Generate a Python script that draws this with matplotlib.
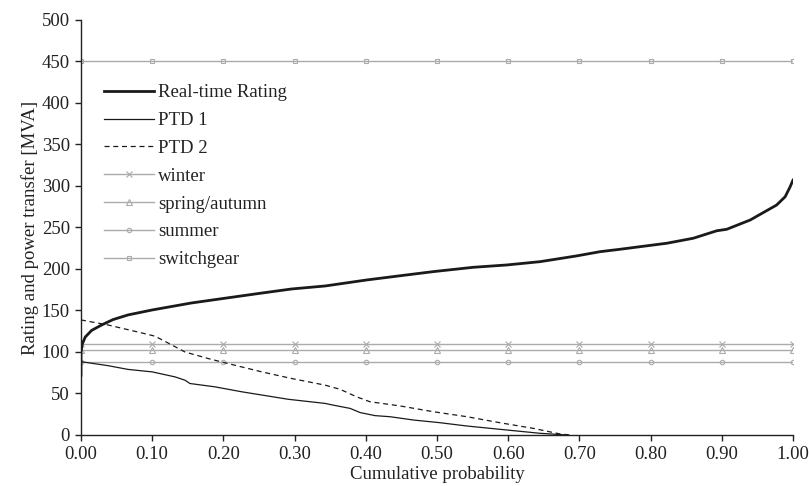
import matplotlib
matplotlib.use("Agg")
import matplotlib.pyplot as plt
from matplotlib.ticker import FormatStrFormatter, MultipleLocator

plt.rcParams['font.family'] = ['Liberation Serif', 'DejaVu Serif']

# Real-time rating (cumulative probability vs MVA)
rt_x = [0, 0, 0.002, 0.006, 0.015, 0.029, 0.045, 0.066, 0.1, 0.155, 0.202, 0.25,
        0.296, 0.343, 0.401, 0.45, 0.495, 0.551, 0.598, 0.645, 0.696, 0.729, 0.757,
        0.823, 0.86, 0.893, 0.907, 0.94, 0.977, 0.989, 0.996, 1.0]
rt_y = [72, 100, 110, 118, 126, 132.5, 139, 144.6, 150.6, 159, 164.7, 170.5,
        175.9, 179.5, 186.7, 192, 196.8, 202, 204.8, 208.8, 215.7, 220.8, 223.7,
        231, 237, 246, 247.8, 259, 277, 287, 299, 307]

ptd1_x = [0, 0.038, 0.066, 0.1, 0.132, 0.146, 0.153, 0.188, 0.226, 0.291, 0.343,
          0.354, 0.378, 0.392, 0.413, 0.434, 0.467, 0.504, 0.542, 0.598, 0.645, 0.682]
ptd1_y = [88.3, 83.5, 79, 76, 70, 66, 62, 58, 52, 43, 38,
          36, 32, 27, 23.3, 22, 18, 14.8, 10.8, 6, 2, 0]

ptd2_x = [0, 0.038, 0.085, 0.104, 0.123, 0.146, 0.179, 0.202, 0.254, 0.296, 0.343,
          0.364, 0.387, 0.406, 0.448, 0.495, 0.542, 0.588, 0.635, 0.673, 0.687]
ptd2_y = [138.6, 132.5, 123, 119, 110.5, 100, 92, 87, 76, 68, 60,
          55, 46, 40, 35, 28, 22, 14.8, 8, 1.2, 0]

season_x = [0.0, 0.1, 0.2, 0.3, 0.4, 0.5, 0.6, 0.7, 0.8, 0.9, 1.0]
winter = 110
spring_autumn = 102
summer = 88
switchgear = 450

fig = plt.figure(figsize=(8.09, 4.86), dpi=100)
ax = fig.add_axes([0.1001, 0.105, 0.8801, 0.854])

gray = '#ababab'
ax.plot(rt_x, rt_y, color='#1a1a1a', lw=2.0, label='Real-time Rating', zorder=5)
ax.plot(ptd1_x, ptd1_y, color='#1a1a1a', lw=0.9, label='PTD 1', zorder=5)
ax.plot(ptd2_x, ptd2_y, color='#1a1a1a', lw=0.9, ls=(0, (4, 3)), label='PTD 2', zorder=5)
ax.plot(season_x, [winter] * len(season_x), color=gray, lw=1.0, marker='x', ms=4,
        mew=0.8, label='winter')
ax.plot(season_x, [spring_autumn] * len(season_x), color=gray, lw=1.0, marker='^', ms=4,
        mfc='none', mew=0.8, label='spring/autumn')
ax.plot(season_x, [summer] * len(season_x), color=gray, lw=1.0, marker='o', ms=3.2,
        mfc='none', mew=0.8, label='summer')
ax.plot(season_x, [switchgear] * len(season_x), color=gray, lw=1.0, marker='s', ms=3.5,
        mfc='none', mew=0.8, label='switchgear')

ax.set_xlim(0, 1.0)
ax.set_ylim(0, 500)
ax.xaxis.set_major_locator(MultipleLocator(0.1))
ax.yaxis.set_major_locator(MultipleLocator(50))
ax.xaxis.set_major_formatter(FormatStrFormatter('%.2f'))
ax.spines['top'].set_visible(False)
ax.spines['right'].set_visible(False)
for s in ('left', 'bottom'):
    ax.spines[s].set_color('#222222')
    ax.spines[s].set_linewidth(1.0)
ax.tick_params(direction='out', length=4, width=1.0, labelsize=13.5, colors='#222222', pad=4)
for lab in ax.get_xticklabels() + ax.get_yticklabels():
    lab.set_color('#222222')

ax.set_xlabel('Cumulative probability', fontsize=13.5, color='#222222', labelpad=2)
ax.set_ylabel('Rating and power transfer [MVA]', fontsize=13.5, color='#222222', labelpad=2)

leg = ax.legend(loc='upper left', bbox_to_anchor=(0.032, 0.845), frameon=False,
                fontsize=13.5, handlelength=2.7, handletextpad=0.2, labelspacing=0.57,
                borderpad=0, borderaxespad=0)
for t in leg.get_texts():
    t.set_color('#222222')

fig.savefig('out.png', dpi=100)
